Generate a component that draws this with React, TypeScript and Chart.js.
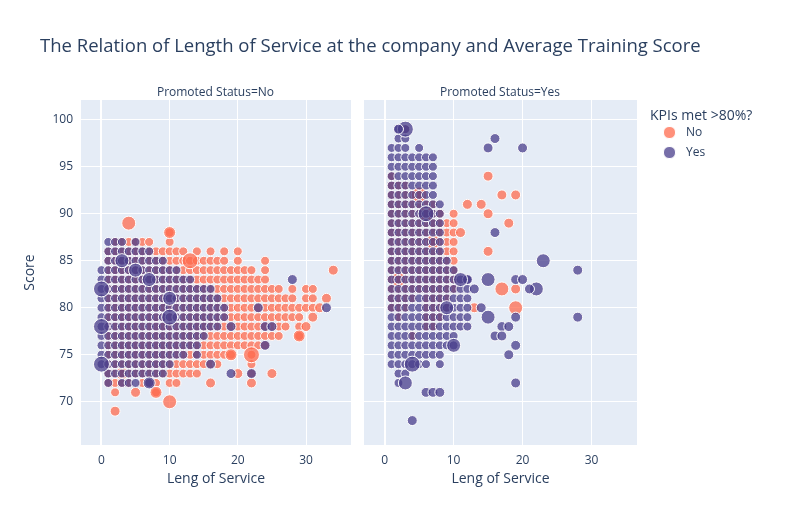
import React, { useEffect, useRef } from "react";
import { Chart, registerables } from "chart.js";
Chart.register(...registerables);

// [lengthOfService, lowestScore, highestScore] columns of integer scores
const leftNoCols = [[1,72,86],[2,71,87],[3,72,87],[4,72,87],[5,73,87],[6,72,87],[7,72,87],[8,71,86],[9,73,86],[10,72,88],[11,72,86],[12,73,86],[13,73,85],[14,73,86],[15,74,85],[16,74,86],[17,74,85],[18,75,86],[19,75,84],[20,76,86],[21,76,84],[22,73,84],[23,76,83],[24,76,85],[25,77,82],[26,77,82],[27,78,81],[28,79,82],[29,77,80],[30,80,82],[31,80,82]];
const leftYesCols = [[0,74,84],[1,72,87],[2,73,87],[3,72,87],[4,72,86],[5,72,87],[6,73,86],[7,72,86],[8,73,85],[9,73,85],[10,74,84],[11,75,84],[12,75,83],[13,76,83],[14,75,82],[15,77,82],[16,78,82],[17,78,81],[18,79,80]];
const rightNoCols = [[1,80,94],[2,79,93],[3,80,93],[4,81,92],[5,82,92],[6,78,91],[7,78,91],[8,79,90],[9,80,89],[10,82,90]];
const rightYesCols = [[1,74,97],[2,72,99],[3,73,99],[4,74,96],[5,74,97],[6,74,96],[7,75,96],[8,74,91],[9,76,85],[10,76,84],[11,78,83],[12,78,83]];
// [lengthOfService, score, markerRadius] single points
const leftNoExtra = [[2,69,5],[10,70,7],[8,71,6],[5,71,5],[4,89,7],[10,88,6],[13,85,8],[34,84,5],[22,72,5],[25,73,5],[29,77,6],[16,72,5],[20,73,5],[30,78,5],[3,73,6],[22,75,8],[19,75,6],[33,81,5],[31,79,5],[32,80,5]];
const leftYesExtra = [[0,82,8],[0,78,8],[0,74,8],[3,85,7],[5,84,7],[7,83,7],[10,79,8],[10,81,7],[28,83,5],[33,80,5],[23,80,5],[24,78,5],[25,78,5],[24,76,5],[22,73,5],[19,73,5],[19,78,5],[16,74,5],[7,72,6]];
const rightNoExtra = [[3,99,5],[17,92,5],[19,92,5],[12,91,5],[14,91,5],[11,88,5],[15,90,5],[15,86,5],[18,89,5],[15,94,5],[17,82,7],[19,80,7],[13,80,5],[2,83,7],[19,82,5],[4,77,5],[5,92,8],[6,90,8],[7,87,7]];
const rightYesExtra = [[6,71,5],[7,71,5],[8,71,5],[3,72,7],[4,74,8],[4,68,5],[19,72,5],[18,75,5],[10,76,7],[16,88,5],[20,97,5],[16,98,5],[15,97,5],[28,84,5],[28,79,5],[23,85,7],[22,82,7],[21,82,5],[19,83,5],[20,83,5],[15,83,7],[12,83,5],[13,82,5],[14,80,5],[15,79,7],[17,78,5],[18,78,5],[19,79,5],[19,76,5],[16,77,5],[17,77,5],[3,99,8],[2,99,5],[6,90,8],[11,83,7],[9,80,7]];

const yTicks = [70, 75, 80, 85, 90, 95, 100];
const xTicks = [0, 10, 20, 30];

const NO_COLOR = "rgba(255,105,75,0.74)";
const YES_COLOR = "rgba(72,61,139,0.75)";
const TXT = "#2a3f5f";
const FONT = "'Open Sans', 'Noto Sans', sans-serif";

function points(cols: number[][], extra: number[][]) {
  const out: { x: number; y: number; r: number }[] = [];
  cols.forEach(([x, lo, hi]) => {
    for (let s = lo; s <= hi; s++) out.push({ x, y: s, r: 4.5 });
  });
  extra.forEach(([x, y, r]) => out.push({ x, y, r }));
  return out;
}

const bg = {
  id: "bg",
  beforeDraw(c: any) {
    const a = c.chartArea;
    c.ctx.save();
    c.ctx.fillStyle = "#E5ECF6";
    c.ctx.fillRect(a.left, a.top, a.right - a.left, a.bottom - a.top);
    c.ctx.restore();
  },
};

function makeChart(canvas: HTMLCanvasElement, left: boolean, no: any[], yes: any[]) {
  const ds = (label: string, data: any[], color: string, order: number) => ({
    label, data, order,
    backgroundColor: color,
    borderColor: "#ffffff",
    borderWidth: 1,
    pointRadius: data.map((p) => p.r),
  });
  return new Chart(canvas, {
    type: "scatter",
    data: { datasets: [ds("No", no, NO_COLOR, 2), ds("Yes", yes, YES_COLOR, 1)] },
    options: {
      animation: false,
      responsive: false,
      layout: { padding: { top: 100, right: 0, left: left ? 18 : 0, bottom: 34 } },
      plugins: { legend: { display: false }, tooltip: { enabled: false } },
      scales: {
        x: {
          type: "linear", min: -3, max: 36.6,
          afterBuildTicks: (ax: any) => { ax.ticks = xTicks.map((v) => ({ value: v })); },
          afterFit: (ax: any) => { ax.height = 46; },
          grid: { color: "#ffffff", lineWidth: (ctx: any) => (ctx.tick && ctx.tick.value === 0 ? 2 : 1), drawTicks: false },
          border: { display: false },
          ticks: { color: TXT, font: { family: FONT, size: 12 }, padding: 8 },
          title: { display: true, text: "Leng of Service", color: TXT, font: { family: FONT, size: 14 }, padding: { top: 4 } },
        },
        y: {
          type: "linear", min: 65.4, max: 102.1,
          afterBuildTicks: (ax: any) => { ax.ticks = yTicks.map((v) => ({ value: v })); },
          afterFit: (ax: any) => { ax.width = left ? 63 : 0; },
          grid: { color: "#ffffff", drawTicks: false },
          border: { display: false },
          ticks: { display: left, color: TXT, font: { family: FONT, size: 12 }, padding: 8 },
          title: { display: left, text: "Score", color: TXT, font: { family: FONT, size: 14 }, padding: { bottom: 4 } },
        },
      },
    } as any,
    plugins: [bg],
  });
}

export default function App() {
  const l = useRef<HTMLCanvasElement>(null);
  const r = useRef<HTMLCanvasElement>(null);
  useEffect(() => {
    const c1 = makeChart(l.current!, true, points(leftNoCols, leftNoExtra), points(leftYesCols, leftYesExtra));
    const c2 = makeChart(r.current!, false, points(rightNoCols, rightNoExtra), points(rightYesCols, rightYesExtra));
    return () => { c1.destroy(); c2.destroy(); };
  }, []);
  const txt: React.CSSProperties = { position: "absolute", color: TXT, fontFamily: FONT, whiteSpace: "nowrap" };
  const dot = (c: string): React.CSSProperties => ({ display: "inline-block", width: 11, height: 11, borderRadius: 6, background: c, border: "1px solid #fff", verticalAlign: "middle", marginRight: 10 });
  return (
    <div style={{ position: "absolute", left: 0, top: 0, width: 785, height: 525, background: "#fff" }}>
      <canvas ref={l} width={360} height={525} style={{ position: "absolute", left: 0, top: 0, width: 360, height: 525 }} />
      <canvas ref={r} width={291} height={525} style={{ position: "absolute", left: 355, top: 0, width: 291, height: 525 }} />
      <div style={{ ...txt, left: 40, top: 32, fontSize: 18.5 }}>The Relation of Length of Service at the company and Average Training Score</div>
      <div style={{ ...txt, left: 81, width: 269, top: 83, fontSize: 12, textAlign: "center" }}>Promoted Status=No</div>
      <div style={{ ...txt, left: 364, width: 272, top: 83, fontSize: 12, textAlign: "center" }}>Promoted Status=Yes</div>
      <div style={{ ...txt, left: 650, top: 105, fontSize: 14 }}>KPIs met &gt;80%?</div>
      <div style={{ ...txt, left: 663, top: 123, fontSize: 12 }}><span style={dot(NO_COLOR)} />No</div>
      <div style={{ ...txt, left: 663, top: 143, fontSize: 12 }}><span style={dot(YES_COLOR)} />Yes</div>
    </div>
  );
}
